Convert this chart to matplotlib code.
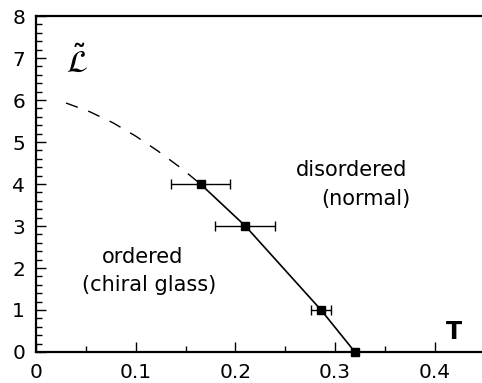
import numpy as np
import matplotlib.pyplot as plt
from matplotlib.ticker import MultipleLocator

# data
T_pts = [0.165, 0.21, 0.286, 0.32]
L_pts = [4.0, 3.0, 1.0, 0.0]
T_err = [0.030, 0.030, 0.010, 0.0]

T_dash = [0.030, 0.054, 0.077, 0.100, 0.122, 0.146, 0.165]
L_dash = [5.93, 5.72, 5.46, 5.14, 4.79, 4.37, 4.0]

plt.rcParams['font.family'] = ['DejaVu Sans']

fig = plt.figure(figsize=(4.82, 3.83), dpi=100)
ax = fig.add_axes([0.075, 0.081, 0.93, 0.877])

ax.plot(T_dash, L_dash, color='black', lw=1.0, dashes=(9, 8))
ax.plot(T_pts, L_pts, color='black', lw=1.2)
ax.errorbar(T_pts[:3], L_pts[:3], xerr=T_err[:3], fmt='s', color='black',
            ms=6.3, capsize=3.5, elinewidth=1, capthick=1)
ax.plot(T_pts[3], L_pts[3], 's', color='black', ms=6.3, clip_on=False, zorder=5)

ax.set_xlim(0, 0.45)
ax.set_ylim(0, 8)
ax.set_xticks([0, 0.1, 0.2, 0.3, 0.4])
ax.set_xticklabels(['0', '0.1', '0.2', '0.3', '0.4'])
ax.xaxis.set_minor_locator(MultipleLocator(0.05))
ax.yaxis.set_major_locator(MultipleLocator(1))
ax.yaxis.set_minor_locator(MultipleLocator(0.2))
ax.tick_params(which='both', direction='in', top=False, right=False, labelsize=14.5, width=1)
ax.tick_params(which='major', length=7, pad=8)
ax.tick_params(which='minor', length=4)
ax.spines['right'].set_visible(False)
for s in ['left', 'bottom', 'top']:
    ax.spines[s].set_linewidth(1.6)

ax.text(0.041, 6.9, r'$\tilde{\mathcal{L}}$', fontsize=22, ha='center', va='center')
ax.text(0.419, 0.47, 'T', fontsize=17, fontweight='bold', ha='center', va='center')
ax.text(0.317, 4.33, 'disordered', fontsize=15, ha='center', va='center')
ax.text(0.3755, 3.64, '(normal)', fontsize=15, ha='right', va='center')
ax.text(0.107, 2.26, 'ordered', fontsize=15, ha='center', va='center')
ax.text(0.113, 1.6, '(chiral glass)', fontsize=15, ha='center', va='center')

fig.savefig('out.png', dpi=100)
